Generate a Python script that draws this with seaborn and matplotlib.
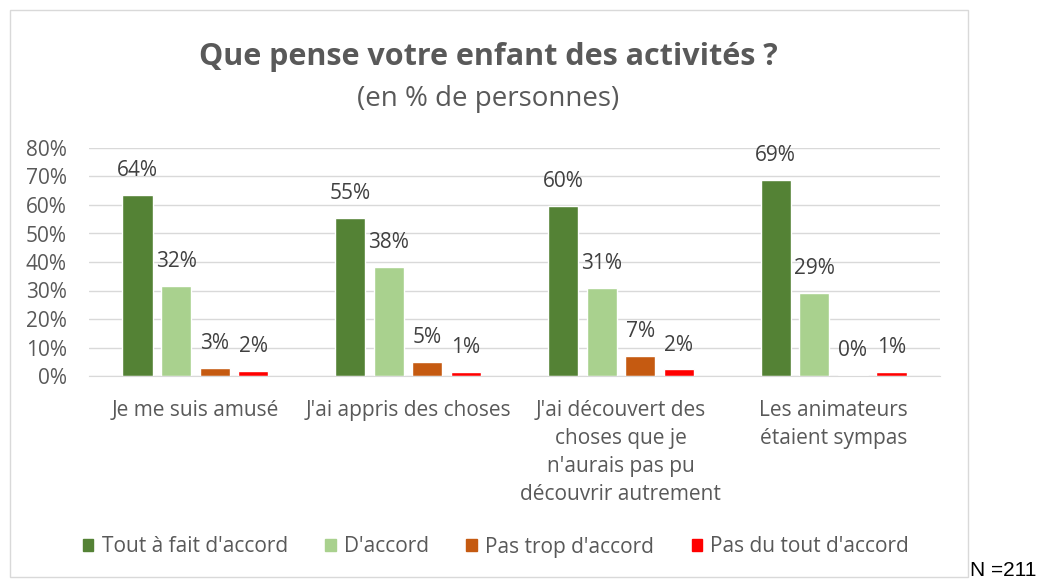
import matplotlib
matplotlib.use("Agg")
import matplotlib.pyplot as plt
import matplotlib.patches as mpatches
import seaborn as sns
import pandas as pd

# data
CATEGORIES = ["Je me suis amusé", "J'ai appris des choses",
              "J'ai découvert des\nchoses que je\nn'aurais pas pu\ndécouvrir autrement",
              "Les animateurs\nétaient sympas"]
ANSWERS = ["Tout à fait d'accord", "D'accord", "Pas trop d'accord", "Pas du tout d'accord"]
TOUT_A_FAIT = [63.5, 55.5, 59.8, 68.7]
D_ACCORD = [31.7, 38.3, 30.8, 29.2]
PAS_TROP = [2.8, 4.8, 7.1, 0.3]
PAS_DU_TOUT = [1.8, 1.3, 2.3, 1.3]
LABELS = [["64%", "55%", "60%", "69%"],
          ["32%", "38%", "31%", "29%"],
          ["3%", "5%", "7%", "0%"],
          ["2%", "1%", "2%", "1%"]]
COLORS = ["#548235", "#A9D18E", "#C55A11", "#FF0000"]

sns.set_style("white")
plt.rcParams['font.family'] = ['Open Sans', 'DejaVu Sans']

rows = []
series = [TOUT_A_FAIT, D_ACCORD, PAS_TROP, PAS_DU_TOUT]
for j, vals in enumerate(series):
    for i, v in enumerate(vals):
        rows.append({"cat": CATEGORIES[i], "answer": ANSWERS[j], "value": v})
df = pd.DataFrame(rows)

fig = plt.figure(figsize=(10.64, 5.85), dpi=100)
# outer frame like the excel chart area
fig.patches.append(mpatches.Rectangle((10 / 1064, 8 / 585), 958 / 1064, 567 / 585,
                                      transform=fig.transFigure, fill=False,
                                      edgecolor="#D9D9D9", linewidth=1))
ax = fig.add_axes([89 / 1064, 1 - 376 / 585, 851 / 1064, 228 / 585])

sns.barplot(data=df, x="cat", y="value", hue="answer", order=CATEGORIES,
            hue_order=ANSWERS, palette=COLORS, width=0.725, gap=0.22,
            saturation=1, legend=False, ax=ax)

# data labels
for j, cont in enumerate(ax.containers):
    for i, bar in enumerate(cont):
        ax.annotate(LABELS[j][i], (bar.get_x() + bar.get_width() / 2, bar.get_height()),
                    xytext=(0, 10), textcoords="offset points", ha="center", va="bottom",
                    fontsize=15, color="#404040")

ax.set_ylim(0, 80)
ax.set_xlim(-0.5, 3.5)
ax.set_yticks(range(0, 81, 10))
ax.set_yticklabels([f"{t}%" for t in range(0, 81, 10)], fontsize=15, color="#595959")
ax.tick_params(axis="x", labelsize=15, labelcolor="#595959", length=0, pad=17)
ax.tick_params(axis="y", length=0, pad=16)
for lbl in ax.get_xticklabels():
    lbl.set_linespacing(1.45)
    lbl.set_verticalalignment("top")
ax.yaxis.grid(True, color="#D9D9D9", linewidth=1)
ax.set_axisbelow(True)
ax.set_xlabel("")
ax.set_ylabel("")
for s in ["top", "right", "left"]:
    ax.spines[s].set_visible(False)
ax.spines["bottom"].set_color("#D9D9D9")

fig.text(488 / 1064, 1 - 57 / 585, "Que pense votre enfant des activités ?", ha="center",
         va="center", fontsize=22, fontweight="bold", color="#595959")
fig.text(488 / 1064, 1 - 99 / 585, "(en % de personnes)", ha="center", va="center",
         fontsize=20, color="#595959")

handles = [mpatches.Patch(color=c, label=a) for c, a in zip(COLORS, ANSWERS)]
fig.legend(handles=handles, loc="center", bbox_to_anchor=(496 / 1064, 1 - 547 / 585),
           ncol=4, frameon=False, fontsize=15, handlelength=0.5, handleheight=0.5,
           handletextpad=0.4, columnspacing=1.8, labelcolor="#595959")

fig.text(970 / 1064, 1 - 570 / 585, "N =211", ha="left", va="center", fontsize=15,
         color="black", family="Liberation Sans")

fig.savefig("out.png", dpi=100)
